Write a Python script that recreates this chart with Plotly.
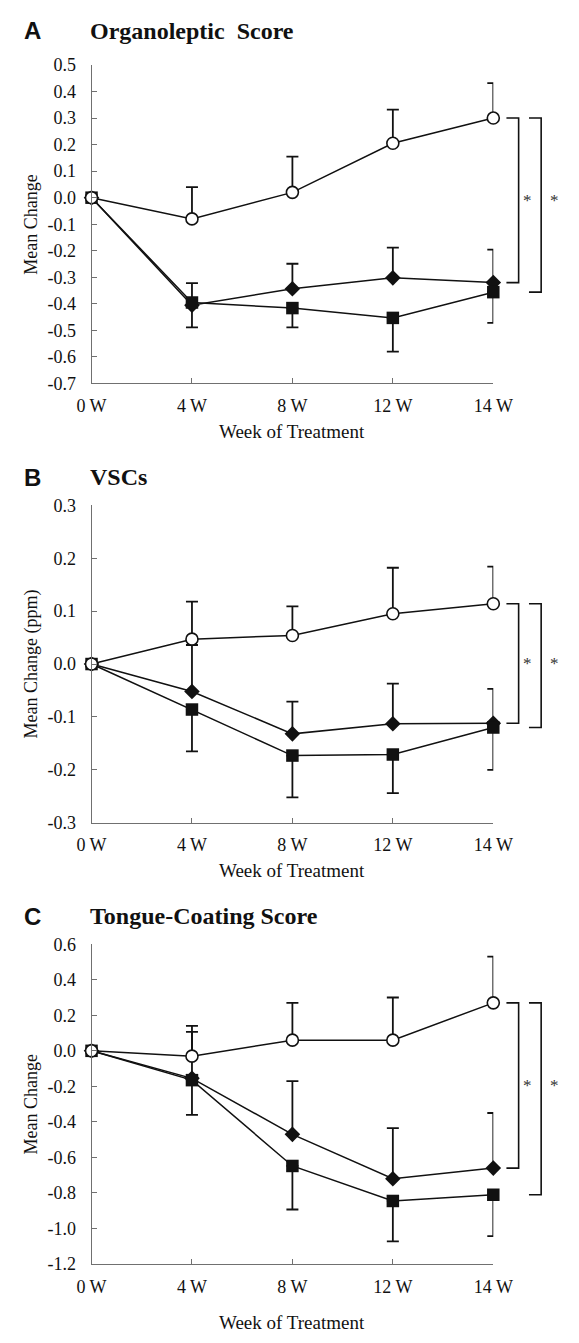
import plotly.graph_objects as go

# ---------------- data ----------------
weeks = ["0 W", "4 W", "8 W", "12 W", "14 W"]

# Panel A: Organoleptic score
a_circle = [0.0, -0.08, 0.02, 0.205, 0.30]
a_circle_err = [None, 0.12, 0.135, 0.127, 0.132]
a_diamond = [0.0, -0.405, -0.343, -0.302, -0.32]
a_diamond_err = [None, 0.083, 0.094, 0.114, 0.124]
a_square = [0.0, -0.395, -0.416, -0.453, -0.356]
a_square_err = [None, 0.094, 0.073, 0.127, 0.116]
a_yticks = [0.5, 0.4, 0.3, 0.2, 0.1, 0.0, -0.1, -0.2, -0.3, -0.4, -0.5, -0.6, -0.7]

# Panel B: VSCs
b_circle = [0.0, 0.047, 0.054, 0.095, 0.114]
b_circle_err = [None, 0.071, 0.055, 0.087, 0.070]
b_diamond = [0.0, -0.052, -0.132, -0.113, -0.112]
b_diamond_err = [None, 0.088, 0.061, 0.076, 0.065]
b_square = [0.0, -0.086, -0.173, -0.171, -0.120]
b_square_err = [None, 0.079, 0.079, 0.073, 0.080]
b_yticks = [0.3, 0.2, 0.1, 0.0, -0.1, -0.2, -0.3]

# Panel C: Tongue-coating score
c_circle = [0.0, -0.03, 0.06, 0.06, 0.27]
c_circle_err = [None, 0.137, 0.21, 0.24, 0.26]
c_diamond = [0.0, -0.155, -0.47, -0.72, -0.66]
c_diamond_err = [None, 0.295, 0.30, 0.285, 0.31]
c_square = [0.0, -0.165, -0.648, -0.845, -0.81]
c_square_err = [None, 0.195, 0.245, 0.227, 0.233]
c_yticks = [0.6, 0.4, 0.2, 0.0, -0.2, -0.4, -0.6, -0.8, -1.0, -1.2]

letters = ["A", "B", "C"]
titles = ["Organoleptic  Score", "VSCs", "Tongue-Coating Score"]
ytitles = ["Mean Change", "Mean Change (ppm)", "Mean Change"]
xtitle = "Week of Treatment"
star = "*"

# ---------------- layout helpers ----------------
# the page body keeps its default 8px margin, so the figure is drawn 8px in
OFF = 8
W, H = 579 - OFF, 1343 - OFF
SERIF = "Liberation Serif"
SANS = "Liberation Sans"
INK = "#111111"
AXC = "#707070"


def fx(p):
    return (p - OFF) / W


def fy(p):
    return 1 - (p - OFF) / H


X0, X1 = 81, 509
panels = [
    dict(top=55.7, bot=379, title_y=21, xlab_y=428,
         circle=a_circle, circle_err=a_circle_err, diamond=a_diamond,
         diamond_err=a_diamond_err, square=a_square, square_err=a_square_err,
         yticks=a_yticks),
    dict(top=502.7, bot=825, title_y=474, xlab_y=873,
         circle=b_circle, circle_err=b_circle_err, diamond=b_diamond,
         diamond_err=b_diamond_err, square=b_square, square_err=b_square_err,
         yticks=b_yticks),
    dict(top=948.3, bot=1273, title_y=920, xlab_y=1332,
         circle=c_circle, circle_err=c_circle_err, diamond=c_diamond,
         diamond_err=c_diamond_err, square=c_square, square_err=c_square_err,
         yticks=c_yticks),
]

fig = go.Figure()
annotations = []
shapes = []


def zeros_like(errs):
    return [None if e is None else 0 for e in errs]


for i, p in enumerate(panels):
    sfx = "" if i == 0 else str(i + 1)
    xa, ya = "x" + sfx, "y" + sfx
    common = dict(x=weeks, xaxis=xa, yaxis=ya, mode="lines+markers",
                  line=dict(color=INK, width=1.5), cliponaxis=False,
                  showlegend=False, hoverinfo="skip")
    # diamond (up error)
    fig.add_trace(go.Scatter(
        y=p["diamond"], **common,
        marker=dict(symbol="diamond", size=12, color=INK, line=dict(width=0)),
        error_y=dict(type="data", symmetric=False, array=p["diamond_err"],
                     arrayminus=zeros_like(p["diamond_err"]), width=6,
                     thickness=1.8, color=INK)))
    # square (down error)
    fig.add_trace(go.Scatter(
        y=p["square"], **common,
        marker=dict(symbol="square", size=12.5, color=INK, line=dict(width=0)),
        error_y=dict(type="data", symmetric=False, array=zeros_like(p["square_err"]),
                     arrayminus=p["square_err"], width=6,
                     thickness=1.8, color=INK)))
    # open circle (up error)
    fig.add_trace(go.Scatter(
        y=p["circle"], **common,
        marker=dict(symbol="circle", size=12, color="white",
                    line=dict(color=INK, width=1.6)),
        error_y=dict(type="data", symmetric=False, array=p["circle_err"],
                     arrayminus=zeros_like(p["circle_err"]), width=6,
                     thickness=1.8, color=INK)))

    yt = p["yticks"]
    fig.update_layout(**{
        "xaxis" + sfx: dict(
            domain=[fx(X0), fx(X1)], anchor=ya, type="category",
            categoryorder="array", categoryarray=weeks, range=[0, 4],
            showline=True, linecolor=AXC, linewidth=1, ticks="inside",
            ticklen=5, tickcolor=AXC, tickwidth=1, showgrid=False,
            zeroline=False, tickfont=dict(family=SERIF, size=18, color=INK),
            ticklabelstandoff=6, fixedrange=True),
        "yaxis" + sfx: dict(
            domain=[fy(p["bot"]), fy(p["top"])], anchor=xa,
            range=[min(yt), max(yt)], tickvals=yt,
            ticktext=[f"{v:.1f}" for v in yt],
            showline=True, linecolor=AXC, linewidth=1, ticks="inside",
            ticklen=5, tickcolor=AXC, tickwidth=1, showgrid=False,
            zeroline=False, tickfont=dict(family=SERIF, size=18, color=INK),
            ticklabelstandoff=11, fixedrange=True),
    })

    # panel letter and title
    annotations.append(dict(text=letters[i], x=fx(7), y=fy(p["title_y"]),
                            xref="paper", yref="paper", xanchor="left",
                            yanchor="middle", showarrow=False,
                            font=dict(family=SANS, size=24, color=INK, weight="bold")))
    annotations.append(dict(text=titles[i], x=fx(77), y=fy(p["title_y"]),
                            xref="paper", yref="paper", xanchor="left",
                            yanchor="middle", showarrow=False,
                            font=dict(family=SERIF, size=24, color=INK, weight="bold")))
    # axis titles
    annotations.append(dict(text=ytitles[i], x=fx(17), y=fy((p["top"] + p["bot"]) / 2),
                            xref="paper", yref="paper", xanchor="center",
                            yanchor="middle", textangle=-90, showarrow=False,
                            font=dict(family=SERIF, size=18, color=INK)))
    annotations.append(dict(text=xtitle, x=fx((X0 + X1) / 2), y=fy(p["xlab_y"]),
                            xref="paper", yref="paper", xanchor="center",
                            yanchor="middle", showarrow=False,
                            font=dict(family=SERIF, size=19, color=INK)))

    # significance brackets
    top_v = p["circle"][-1]
    for (xa0, xa1, low_v, sx) in [(523, 536, p["diamond"][-1], 545),
                                  (547, 560, p["square"][-1], 574)]:
        shapes.append(dict(
            type="path", xref="paper", yref=ya,
            path=f"M {fx(xa0)},{top_v} L {fx(xa1)},{top_v} L {fx(xa1)},{low_v} L {fx(xa0)},{low_v}",
            line=dict(color=INK, width=1.6)))
        annotations.append(dict(text=star, x=fx(sx), y=(top_v + p["diamond"][-1]) / 2,
                                xref="paper", yref=ya, xanchor="center",
                                yanchor="middle", showarrow=False,
                                font=dict(family=SERIF, size=17, color="#333333")))

fig.update_layout(
    width=W, height=H, margin=dict(l=0, r=0, t=0, b=0),
    paper_bgcolor="white", plot_bgcolor="white",
    annotations=annotations, shapes=shapes,
)

fig.write_html("out.html", config={"displayModeBar": False})
